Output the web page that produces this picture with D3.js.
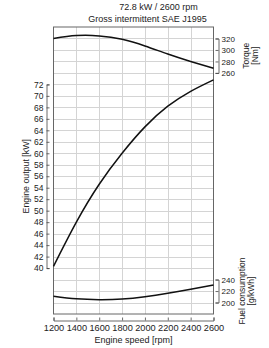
<!DOCTYPE html>
<html>
<head>
<meta charset="utf-8">
<script src="https://cdn.jsdelivr.net/npm/d3@7"></script>
<style>
  body { margin: 0; background: #fff; }
  text { font-family: "Liberation Sans", Arial, sans-serif; fill: #222; }
</style>
</head>
<body>
<script>
// chart data
var rpm = [1200, 1400, 1600, 1800, 2000, 2200, 2400, 2600];
var power = [40.3, 48.0, 54.6, 60.0, 64.6, 68.2, 70.8, 72.8];
var torque = [320, 325, 324.5, 318.5, 307, 293, 280, 268];
var fuel = [211, 206.5, 205, 206, 210, 216, 223, 230.5];

var rpmTicks = [1200, 1400, 1600, 1800, 2000, 2200, 2400, 2600];
var powerTicks = [40, 42, 44, 46, 48, 50, 52, 54, 56, 58, 60, 62, 64, 66, 68, 70, 72];
var torqueTicks = [260, 280, 300, 320];
var fuelTicks = [200, 220, 240];

var titleLines = ['72.8 kW / 2600 rpm', 'Gross intermittent SAE J1995'];

var width = 269, height = 348;
var plotL = 53.5, plotR = 213.5, plotT = 27, plotB = 314;

var svg = d3.select('body').append('svg').attr('width', width).attr('height', height);

var x = d3.scaleLinear().domain([1200, 2600]).range([plotL, plotR]);
var yP = d3.scaleLinear().domain([32, 82]).range([plotB, plotT]);
var yT = d3.scaleLinear().domain([-160, 340]).range([plotB, plotT]);
var yF = d3.scaleLinear().domain([180, 680]).range([plotB, plotT]);

// grid
var grid = svg.append('g');
grid.selectAll('.gh')
  .data(d3.range(34, 82, 2))
  .enter().append('line')
  .attr('x1', plotL).attr('x2', plotR)
  .attr('y1', function (d) { return Math.round(yP(d)) + 0.5; })
  .attr('y2', function (d) { return Math.round(yP(d)) + 0.5; })
  .attr('stroke', '#d4d4d4').attr('stroke-width', 1);
grid.selectAll('.gv')
  .data(rpmTicks.slice(1, -1))
  .enter().append('line')
  .attr('y1', plotT).attr('y2', plotB)
  .attr('x1', function (d) { return Math.round(x(d)) + 0.5; })
  .attr('x2', function (d) { return Math.round(x(d)) + 0.5; })
  .attr('stroke', '#d4d4d4').attr('stroke-width', 1);

svg.append('rect')
  .attr('x', plotL).attr('y', plotT)
  .attr('width', plotR - plotL).attr('height', plotB - plotT)
  .attr('fill', 'none').attr('stroke', '#666').attr('stroke-width', 1);

// curves
function curve(vals, y) {
  return d3.line()
    .x(function (d, i) { return x(rpm[i]); })
    .y(function (d) { return y(d); })
    .curve(d3.curveNatural)(vals);
}
[[power, yP], [torque, yT], [fuel, yF]].forEach(function (s) {
  svg.append('path')
    .attr('d', curve(s[0], s[1]))
    .attr('fill', 'none').attr('stroke', '#111').attr('stroke-width', 1.5);
});

function styleAxis(g, size) {
  g.selectAll('path, line').attr('stroke', '#444').attr('stroke-width', 0.8);
  g.selectAll('text').attr('font-size', size).attr('fill', '#222')
    .attr('font-family', '"Liberation Sans", Arial, sans-serif');
}

// left axis (kW)
var yPsub = d3.scaleLinear().domain([40, 72]).range([yP(40), yP(72)]);
var gL = svg.append('g').attr('transform', 'translate(46.5,0)')
  .call(d3.axisLeft(yPsub).tickValues(powerTicks).tickSize(-3).tickPadding(3));
styleAxis(gL, 8.5);

// right axes
var yTsub = d3.scaleLinear().domain([260, 320]).range([yT(260), yT(320)]);
var gT = svg.append('g').attr('transform', 'translate(218.5,0)')
  .call(d3.axisRight(yTsub).tickValues(torqueTicks).tickSize(-3).tickPadding(3));
styleAxis(gT, 8);

var yFsub = d3.scaleLinear().domain([200, 240]).range([yF(200), yF(240)]);
var gF = svg.append('g').attr('transform', 'translate(218.5,0)')
  .call(d3.axisRight(yFsub).tickValues(fuelTicks).tickSize(-3).tickPadding(3));
styleAxis(gF, 8);

// bottom axis
var gB = svg.append('g').attr('transform', 'translate(0,320.5)')
  .call(d3.axisBottom(x).tickValues(rpmTicks).tickFormat(d3.format('d')).tickSize(-3).tickPadding(4));
styleAxis(gB, 9.2);

// titles
svg.append('text').attr('x', 158.5).attr('y', 10).attr('text-anchor', 'middle')
  .attr('font-size', 9).text(titleLines[0]);
svg.append('text').attr('x', 147.5).attr('y', 22).attr('text-anchor', 'middle')
  .attr('font-size', 9).text(titleLines[1]);

svg.append('text').attr('x', x(1900)).attr('y', 343).attr('text-anchor', 'middle')
  .attr('font-size', 9).text('Engine speed [rpm]');

svg.append('text')
  .attr('transform', 'translate(29,' + (yP(56)) + ') rotate(-90)')
  .attr('text-anchor', 'middle').attr('font-size', 8.8)
  .text('Engine output [kW]');

var tt = svg.append('text')
  .attr('transform', 'translate(249,' + yT(290) + ') rotate(-90)')
  .attr('text-anchor', 'middle').attr('font-size', 8.5);
tt.append('tspan').attr('x', 0).attr('dy', 0).text('Torque');
tt.append('tspan').attr('x', 0).attr('dy', '1.05em').text('[Nm]');

var ft = svg.append('text')
  .attr('transform', 'translate(245,' + yF(220) + ') rotate(-90)')
  .attr('text-anchor', 'middle').attr('font-size', 8.5);
ft.append('tspan').attr('x', 0).attr('dy', 0).text('Fuel consumption');
ft.append('tspan').attr('x', 0).attr('dy', '1.05em').text('[g/kWh]');
</script>
</body>
</html>
